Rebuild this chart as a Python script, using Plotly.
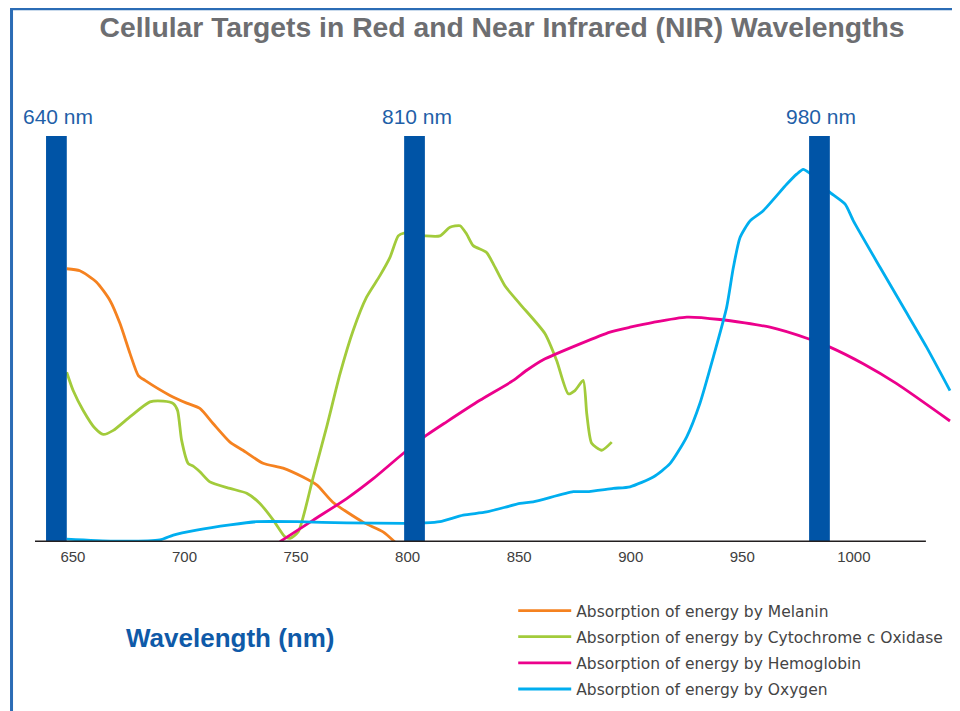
import plotly.graph_objects as go

# ---- data (wavelength nm, relative absorption 0-100) ----
melanin_x = [647.3, 653.1, 660.6, 666.6, 671.1, 675.6, 679.3, 682.3, 693.5, 701.0, 706.9, 712.8,
             720.4, 726.2, 735.2, 744.2, 753.1, 759.4, 766.5, 780.0, 789.0, 794.3]
melanin_y = [67.3, 66.8, 64.0, 59.5, 53.8, 46.4, 41.0, 39.8, 36.1, 34.2, 32.9, 29.2,
             24.6, 22.6, 19.4, 18.2, 16.0, 14.0, 9.8, 4.9, 2.5, 0.0]

cco_x = [647.2, 650.1, 654.6, 659.9, 663.6, 668.1, 675.5, 684.5, 690.5, 695.0, 696.9, 698.7,
         701.7, 703.9, 706.9, 711.4, 720.4, 727.9, 733.8, 739.8, 745.0, 747.3, 751.0, 757.7,
         763.7, 769.7, 775.6, 781.6, 787.6, 792.1, 795.8, 798.4, 807.8, 814.5, 819.0, 823.5,
         826.5, 829.4, 835.4, 838.4, 843.6, 850.4, 861.6, 866.8, 872.0, 875.0, 878.7, 880.3,
         882.5, 887.0, 891.5]
cco_y = [41.8, 37.3, 32.4, 28.0, 26.5, 27.5, 30.8, 34.5, 34.7, 34.1, 32.4, 25.1,
         19.3, 18.7, 17.3, 14.8, 13.2, 12.0, 9.5, 5.4, 1.3, 0.9, 2.5, 16.0,
         28.3, 41.4, 52.1, 60.3, 65.6, 70.1, 75.4, 76.1, 75.4, 75.4, 77.5, 77.9,
         75.8, 73.0, 71.3, 68.5, 63.1, 58.6, 51.3, 44.7, 36.5, 37.3, 39.8, 31.6,
         24.3, 22.6, 24.6]

hb_x = [742.8, 757.7, 772.7, 784.6, 798.0, 808.5, 817.5, 832.4, 847.4, 853.4, 860.8, 877.3,
        890.7, 899.7, 910.1, 925.1, 940.0, 962.4, 979.9, 989.3, 1004.2, 1019.2, 1043.1]
hb_y = [0.1, 5.4, 10.7, 15.6, 21.8, 26.3, 29.6, 34.9, 39.8, 42.3, 44.9, 48.8,
        51.7, 52.9, 54.1, 55.4, 54.8, 52.9, 50.0, 48.0, 43.9, 39.0, 29.8]

o2_x = [647.2, 668.1, 689.0, 695.0, 705.4, 720.4, 732.3, 750.3, 772.7, 798.4, 807.8, 814.5,
        824.9, 835.4, 850.4, 856.3, 874.3, 880.3, 892.2, 899.7, 910.1, 917.6, 925.1, 931.0,
        937.0, 943.0, 946.0, 949.0, 953.5, 959.4, 969.9, 974.4, 977.3, 979.9, 989.3, 996.1,
        999.8, 1011.8, 1022.2, 1032.6, 1043.1]
o2_y = [0.7, 0.2, 0.5, 1.7, 2.9, 4.2, 5.0, 5.0, 4.7, 4.6, 4.7, 5.0,
        6.6, 7.4, 9.5, 9.9, 12.4, 12.4, 13.2, 13.6, 16.0, 19.3, 25.9, 34.1,
        45.5, 57.8, 67.6, 75.0, 79.1, 81.6, 88.1, 90.6, 91.8, 91.0, 86.1, 83.2,
        79.1, 67.6, 57.8, 48.0, 37.3]

band_x = [642.6, 803.1, 984.6]          # treatment wavelength bands (drawn position)
band_labels = ["640 nm", "810 nm", "980 nm"]
band_h = [100, 100, 100]

tick_vals = [650, 700, 750, 800, 850, 900, 950, 1000]

series = [
    ("Absorption of energy by Melanin", melanin_x, melanin_y, "#f58220"),
    ("Absorption of energy by Cytochrome c Oxidase", cco_x, cco_y, "#a2cb3b"),
    ("Absorption of energy by Hemoglobin", hb_x, hb_y, "#ec008c"),
    ("Absorption of energy by Oxygen", o2_x, o2_y, "#00aeef"),
]

FONT = "Liberation Sans"
fig = go.Figure()
for i, (name, xs, ys, col) in enumerate(series):
    fig.add_trace(go.Scatter(
        x=xs, y=ys, name=name, mode="lines",
        line=dict(color=col, width=2.8, shape="spline", smoothing=0.6),
        legendgroup=f"g{i}", hoverinfo="skip"))

fig.add_trace(go.Bar(
    x=band_x, y=band_h, width=9.3, marker=dict(color="#0054a6", line=dict(width=0)),
    xaxis="x2", yaxis="y2", showlegend=False, hoverinfo="skip"))

XR = [633.0, 1044.0]
YR = [0, 100]

annotations = []
for bx, lab in zip(band_x, band_labels):
    annotations.append(dict(x=bx, y=1.048, xref="x", yref="paper", text=lab, showarrow=False,
                            xshift=2, xanchor="center", yanchor="middle",
                            font=dict(family=FONT, size=21, color="#1f5fa8")))
annotations.append(dict(x=0.2127, y=-0.236, xref="paper", yref="paper",
                        text="<b>Wavelength (nm)</b>", showarrow=False,
                        xanchor="center", yanchor="middle",
                        font=dict(family=FONT, size=26, color="#0f5aa8")))

fig.update_layout(
    width=960, height=711,
    margin=dict(l=27, r=16, t=128, b=177, autoexpand=False),
    paper_bgcolor="white", plot_bgcolor="white",
    title=dict(text="<b>Cellular Targets in Red and Near Infrared (NIR) Wavelengths</b>",
               x=0.5146, xanchor="center", y=0.9733, yanchor="middle", xref="container",
               yref="container", font=dict(family=FONT, size=28.3, color="#6d6e71")),
    xaxis=dict(range=XR, showgrid=False, zeroline=False, showline=False, ticks="",
               tickvals=tick_vals, ticklabelstandoff=4,
               tickfont=dict(family=FONT, size=15, color="#404040")),
    yaxis=dict(range=YR, visible=False, showgrid=False, zeroline=False),
    xaxis2=dict(range=XR, overlaying="x", visible=False),
    yaxis2=dict(range=YR, overlaying="y", visible=False),
    showlegend=True,
    legend=dict(x=0.5215, y=-0.128, xanchor="left", yanchor="top", tracegroupgap=3,
                itemwidth=53,
                font=dict(family="DejaVu Sans", size=15.5, color="#444444"),
                bgcolor="rgba(0,0,0,0)"),
    annotations=annotations,
    shapes=[
        dict(type="line", xref="x", yref="y", x0=XR[0], x1=1032.3, y0=0, y1=0,
             line=dict(color="#231f20", width=3), layer="above"),
        dict(type="rect", xref="paper", yref="paper", x0=-0.0256, x1=1.0038, y0=-0.45, y1=1.3133,
             line=dict(color="#2b6cb5", width=3), layer="below"),
    ],
)

fig.write_html("out.html")
